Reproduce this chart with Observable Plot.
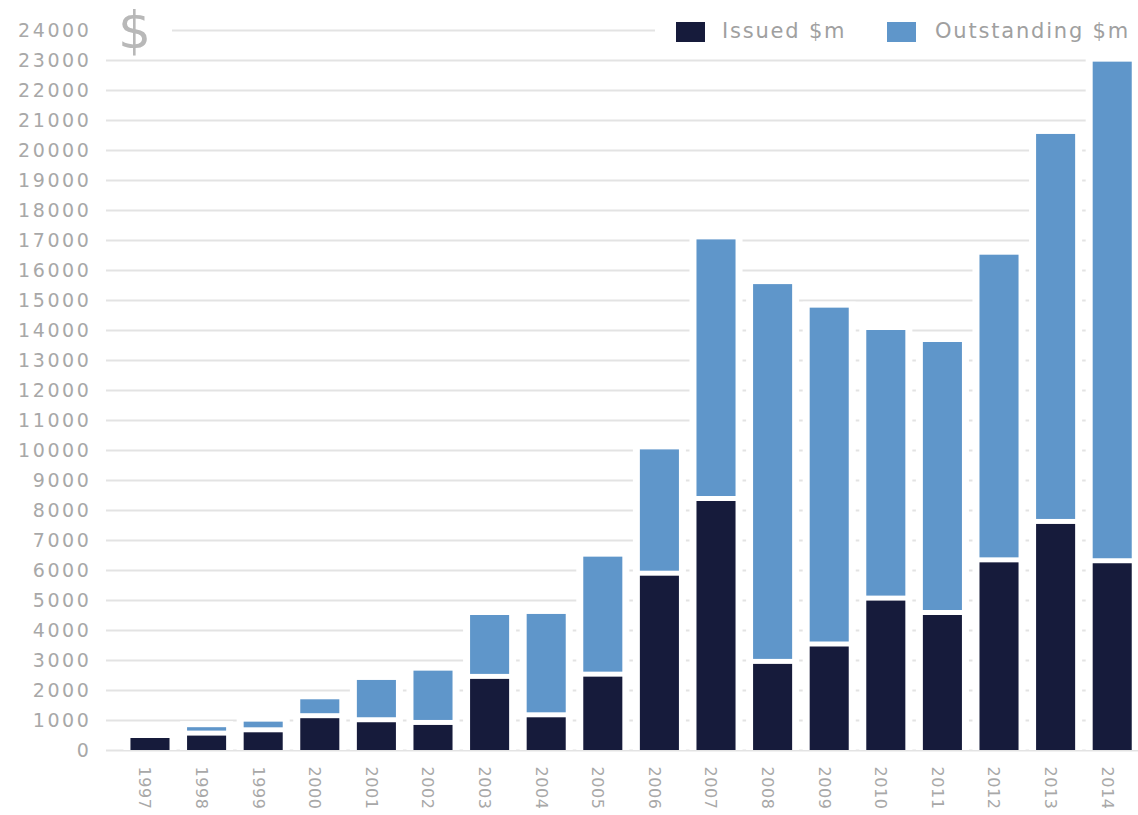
<!DOCTYPE html>
<html>
<head>
<meta charset="utf-8">
<script src="https://cdn.jsdelivr.net/npm/d3@7"></script>
<script src="https://cdn.jsdelivr.net/npm/@observablehq/plot@0.6"></script>
<style>
  html, body { margin: 0; padding: 0; background: #fff; }
  #wrap { position: relative; width: 1138px; height: 815px; overflow: hidden; font-family: "DejaVu Sans", sans-serif; }
  #dollar { position: absolute; left: 104px; top: 4px; width: 68px; height: 52px; background: #fff; }
  #dollar span { position: absolute; left: 14px; top: 0px; font-size: 52px; line-height: 52px; color: #b8b8b8; }
  #legend { position: absolute; left: 655px; top: 12px; width: 483px; height: 40px; background: #fff; }
  .sw { position: absolute; top: 10px; width: 29px; height: 20px; }
  .lt { position: absolute; top: 7px; font-size: 21px; line-height: 24px; color: #a0a0a0; letter-spacing: 1.8px; white-space: nowrap; }
  svg g[aria-label="y-axis tick label"] text { letter-spacing: 2.6px; }
  svg g[aria-label="x-axis tick label"] text { letter-spacing: 0.6px; }
</style>
</head>
<body>
<div id="wrap"></div>
<script>
const years = [1997, 1998, 1999, 2000, 2001, 2002, 2003, 2004, 2005, 2006, 2007, 2008, 2009, 2010, 2011, 2012, 2013, 2014];
const issued = [400, 480, 590, 1060, 925, 835, 2370, 1090, 2445, 5810, 8300, 2870, 3450, 4980, 4500, 6255, 7535, 6225];
const outstanding = [0, 280, 355, 630, 1410, 1810, 2130, 3445, 4000, 4210, 8720, 12660, 11295, 9020, 9100, 10255, 13000, 16720];
const yTicks = [0, 1000, 2000, 3000, 4000, 5000, 6000, 7000, 8000, 9000, 10000, 11000, 12000, 13000, 14000, 15000, 16000, 17000, 18000, 19000, 20000, 21000, 22000, 23000, 24000];
const seriesNames = ["Issued $m", "Outstanding $m"];
const colors = ["#161b3b", "#5f96ca"];

const data = years.map((y, i) => ({
  year: String(y),
  issued: issued[i],
  outstanding: outstanding[i],
  total: issued[i] + outstanding[i]
}));

const chart = Plot.plot({
  width: 1138,
  height: 815,
  marginTop: 30,
  marginBottom: 65,
  marginLeft: 106,
  marginRight: 0,
  style: { background: "#fff", color: "#a8a8a8", fontFamily: "DejaVu Sans, sans-serif" },
  x: { domain: years.map(String), range: [124.8, 1137.4], paddingInner: 0.31, paddingOuter: 0.1, round: false, label: null },
  y: { domain: [0, 24000], label: null },
  marks: [
    Plot.ruleY(yTicks, { stroke: "#e3e3e3", strokeWidth: 2 }),
    Plot.barY(data, { x: "year", y1: 0, y2: "total", fill: "#fff", insetLeft: -7, insetRight: -7, insetTop: -6 }),
    Plot.barY(data, { x: "year", y1: 0, y2: "issued", fill: colors[0] }),
    Plot.barY(data.filter(d => d.outstanding > 0), { x: "year", y1: "issued", y2: "total", fill: colors[1], insetBottom: 5 }),
    Plot.axisY({ ticks: yTicks, tickSize: 0, tickPadding: 15, tickFormat: d3.format("d"), fontSize: 19, label: null }),
    Plot.axisX({ tickRotate: 90, tickSize: 0, tickPadding: 16, fontSize: 16, dx: -6, label: null })
  ]
});

const wrap = document.getElementById("wrap");
wrap.appendChild(chart);

const dollar = document.createElement("div");
dollar.id = "dollar";
dollar.innerHTML = '<span>$</span>';
wrap.appendChild(dollar);

const legend = document.createElement("div");
legend.id = "legend";
const swX = [21, 232];
const txX = [67, 280];
seriesNames.forEach((name, i) => {
  const sw = document.createElement("div");
  sw.className = "sw";
  sw.style.left = swX[i] + "px";
  sw.style.background = colors[i];
  legend.appendChild(sw);
  const t = document.createElement("div");
  t.className = "lt";
  t.style.left = txX[i] + "px";
  t.textContent = name;
  legend.appendChild(t);
});
wrap.appendChild(legend);
</script>
</body>
</html>
